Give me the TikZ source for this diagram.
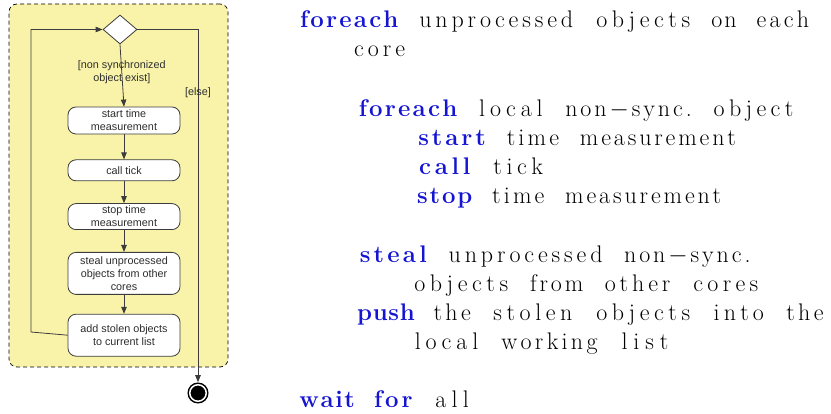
\documentclass[tikz,border=0pt]{standalone}
\usepackage{fontspec}
\usepackage{xcolor}
\usepackage{tikz}
\usetikzlibrary{shapes.geometric, arrows.meta, positioning}

\newfontfamily\umlfont{Liberation Sans}
\definecolor{poolyellow}{RGB}{249,243,170}
\definecolor{kwblue}{RGB}{20,20,210}
\definecolor{umlgray}{RGB}{60,60,60}
\definecolor{umltext}{RGB}{45,45,45}

% fixed columns, as a listing sets them
\ExplSyntaxOn
\dim_new:N \l_code_col_dim
\dim_set:Nn \l_code_col_dim {14.7pt}
\seq_new:N \l_code_words_seq
\cs_new_protected:Npn \code_char:n #1
  { \hss \str_if_eq:nnTF {#1} {-} { \ensuremath{-} } {#1} }
\cs_new_protected:Npn \code_word:n #1
  {
    \hbox_to_wd:nn { \l_code_col_dim * \str_count:n {#1} }
      { \str_map_function:nN {#1} \code_char:n \hss }
  }
\NewDocumentCommand \fixedcols { m }
  {
    \seq_set_split:Nnn \l_code_words_seq { ~ } {#1}
    \seq_map_indexed_inline:Nn \l_code_words_seq
      {
        \int_compare:nNnT {##1} > {1} { \skip_horizontal:N \l_code_col_dim }
        \code_word:n {##2}
      }
  }
\ExplSyntaxOff
\newcommand\kw[1]{{\bfseries\color{kwblue}\fixedcols{#1}}}

\begin{document}
\begin{tikzpicture}[
    x=1pt, y=-1pt,
    region/.style={rectangle, rounded corners=8pt, draw=black, dash pattern=on 4pt off 3pt, fill=poolyellow, line width=0.7pt},
    action/.style={rectangle, rounded corners=8pt, draw=umlgray, fill=white, line width=0.8pt, minimum width=112pt, inner sep=1.5pt, align=center, text=umltext, font=\umlfont\fontsize{10.8}{13}\selectfont},
    decision/.style={diamond, draw=umlgray, fill=white, line width=0.8pt, minimum width=34pt, minimum height=29pt, inner sep=0pt},
    final/.style={circle, draw=black, fill=black, line width=1.5pt, double=white, double distance=1.5pt, minimum size=16.5pt, inner sep=0pt, outer sep=2.5pt},
    guard/.style={text=umltext, font=\umlfont\fontsize{10.8}{13}\selectfont, align=center, inner sep=0pt},
    flow/.style={-{Triangle[length=7pt, width=5.5pt]}, umlgray, line width=0.8pt},
    codeline/.style={anchor=base west, inner sep=0pt, font=\fontsize{24}{29}\selectfont}
]
\useasboundingbox (0,0) rectangle (831,414);

% activity region
\node[region, minimum width=219pt, minimum height=363pt] (pool) at (118.5,185.5) {};

% decision
\node[decision] (dia) at (120,29.5) {};

% actions
\node[action, minimum height=27pt] (start) at (124,120.5) {start time\\measurement};
\node[action, minimum height=21pt, below=25pt of start] (call) {call tick};
\node[action, minimum height=26pt, below=22pt of call] (stop) {stop time\\measurement};
\node[action, minimum height=42pt, below=22pt of stop] (steal) {steal unprocessed\\objects from other\\cores};
\node[action, minimum height=42pt, below=19pt of steal] (add) {add stolen objects\\to current list};

% final node
\node[final] (done) at (198,393) {};
\coordinate (back) at (31,332);

% arrows
\draw[flow] (dia.south) -- node[guard, pos=0.45] {[non synchronized\\object exist]} (start.north);
\draw[flow] (start) -- (call);
\draw[flow] (call) -- (stop);
\draw[flow] (stop) -- (steal);
\draw[flow] (steal) -- (add);
\draw[flow] (add.west) -- (back) |- (dia.west);
\draw[flow] (dia.east) -| node[guard, pos=0.59] {[else]} (done.north);

% pseudo code
\node[codeline] (c1) at (297.6,28) {\kw{foreach}\fixedcols{ unprocessed objects on each}};
\node[codeline] (c2) at (350,57) {\fixedcols{core}};
\node[codeline] (c3) at (356.4,117) {\kw{foreach}\fixedcols{ local non-sync. object}};
\node[codeline] (c4) at (415.2,146) {\kw{start}\fixedcols{ time measurement}};
\node[codeline] (c5) at (415.2,175) {\kw{call}\fixedcols{ tick}};
\node[codeline] (c6) at (415.2,204) {\kw{stop}\fixedcols{ time measurement}};
\node[codeline] (c7) at (356.4,263) {\kw{steal}\fixedcols{ unprocessed non-sync.}};
\node[codeline] (c8) at (409.6,292) {\fixedcols{objects from other cores}};
\node[codeline] (c9) at (356.4,321) {\kw{push}\fixedcols{ the stolen objects into the}};
\node[codeline] (c10) at (409.6,350) {\fixedcols{local working list}};
\node[codeline] (c11) at (297.6,407) {\kw{wait for}\fixedcols{ all}};

\end{tikzpicture}
\end{document}
